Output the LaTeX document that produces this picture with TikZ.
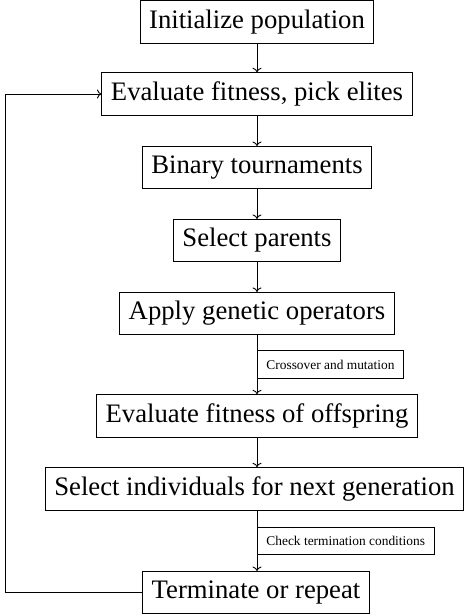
\documentclass[tikz,border=0pt]{standalone}
\usepackage{fontspec}
\setmainfont{Liberation Serif}
\usetikzlibrary{arrows.meta}
\begin{document}
\begin{tikzpicture}[x=1pt,y=-1pt,
  stepbox/.style={draw, line width=0.9pt, inner sep=9pt, font=\fontsize{26.7}{32}\selectfont, minimum height=42pt},
  notebox/.style={draw, line width=0.9pt, inner sep=9pt, font=\fontsize{13.4}{16}\selectfont, anchor=west},
  conn/.style={-{To[length=4.5pt,width=9pt]}, line width=0.9pt}]
\useasboundingbox (0,0) rectangle (466,616);
\node[stepbox] (b1) at (257,22) {Initialize population};
\node[stepbox] (b2) at (257,94) {Evaluate fitness, pick elites};
\node[stepbox] (b3) at (257,167.5) {Binary tournaments};
\node[stepbox] (b4) at (257,240.5) {Select parents};
\node[stepbox] (b5) at (257,313.5) {Apply genetic operators};
\node[stepbox] (b6) at (257,416) {Evaluate fitness of offspring};
\node[stepbox] (b7) at (254.5,489) {Select individuals for next generation};
\node[stepbox] (b8) at (256,592.5) {Terminate or repeat};
\node[notebox] (n1) at (257,364.5) {Crossover and mutation};
\node[notebox] (n2) at (257,541) {Check termination conditions};
\coordinate (lp) at (5,592.5);
\draw[conn] (b1) -- (b2);
\draw[conn] (b2) -- (b3);
\draw[conn] (b3) -- (b4);
\draw[conn] (b4) -- (b5);
\draw[conn] (b5) -- (b6);
\draw[conn] (b6.south) -- (b6.south |- b7.north);
\draw[conn] (b7.south -| b6.south) -- (b6.south |- b8.north);
\draw[conn] (b8.west) -- (lp) |- (b2.west);
\end{tikzpicture}
\end{document}
